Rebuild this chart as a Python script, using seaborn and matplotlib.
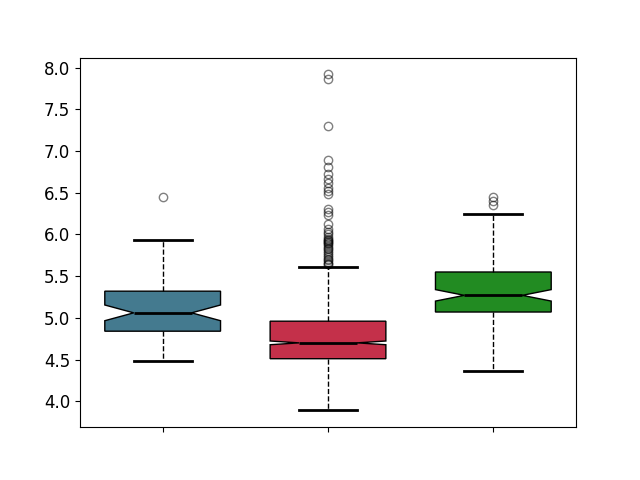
import numpy as np
import pandas as pd
import matplotlib
matplotlib.use("Agg")
import matplotlib.pyplot as plt
import seaborn as sns

# Group labels (not shown on the axis in the reference)
groups = ["A", "B", "C"]
colors = ["#447a8f", "#c4304a", "#228b22"]

# Values (distinct values and how often each occurs)
a_values = [4.48, 4.84, 5.06, 5.32, 5.93, 6.45]
a_counts = [1, 24, 16, 21, 1, 1]

b_values = [3.89, 4.51, 4.70, 4.96, 5.61,
            5.64, 5.65, 5.67, 5.69, 5.71, 5.73, 5.75, 5.78, 5.80, 5.82,
            5.84, 5.86, 5.88, 5.90, 5.91, 5.92, 5.93, 5.95, 5.97, 6.00,
            6.03, 6.06, 6.13, 6.23, 6.27, 6.31, 6.49, 6.52, 6.56, 6.62,
            6.67, 6.72, 6.81, 6.89, 7.30, 7.87, 7.92]
b_counts = [1, 374, 250, 337, 1] + [1] * 37

c_values = [4.36, 5.07, 5.27, 5.55, 6.25, 6.35, 6.40, 6.45]
c_counts = [1, 44, 30, 41, 1, 1, 1, 1]

rows = []
for g, vals, cnts in zip(groups, [a_values, b_values, c_values],
                         [a_counts, b_counts, c_counts]):
    rows.append(pd.DataFrame({"group": g, "value": np.repeat(vals, cnts)}))
df = pd.concat(rows, ignore_index=True)

fig, ax = plt.subplots(figsize=(6.4, 4.8), dpi=100)
sns.boxplot(
    data=df, x="group", y="value", hue="group", order=groups,
    palette=dict(zip(groups, colors)), saturation=1, legend=False,
    notch=True, width=0.7, ax=ax,
    boxprops=dict(edgecolor="black", linewidth=1),
    medianprops=dict(color="black", linewidth=2),
    whiskerprops=dict(color="black", linestyle="--", linewidth=1),
    capprops=dict(color="black", linewidth=2),
    flierprops=dict(marker="o", markerfacecolor="none",
                    markeredgecolor="black", alpha=0.5, markersize=6),
)
ax.set_xticks(range(len(groups)))
ax.set_xticklabels(["", "", ""])
ax.set_xlabel("")
ax.set_ylabel("")
ax.tick_params(labelsize=12)
ax.tick_params(axis="x", length=3.5)
for s in ax.spines.values():
    s.set_visible(True)
    s.set_color("black")
    s.set_linewidth(0.8)

fig.savefig("out.png", dpi=100)
